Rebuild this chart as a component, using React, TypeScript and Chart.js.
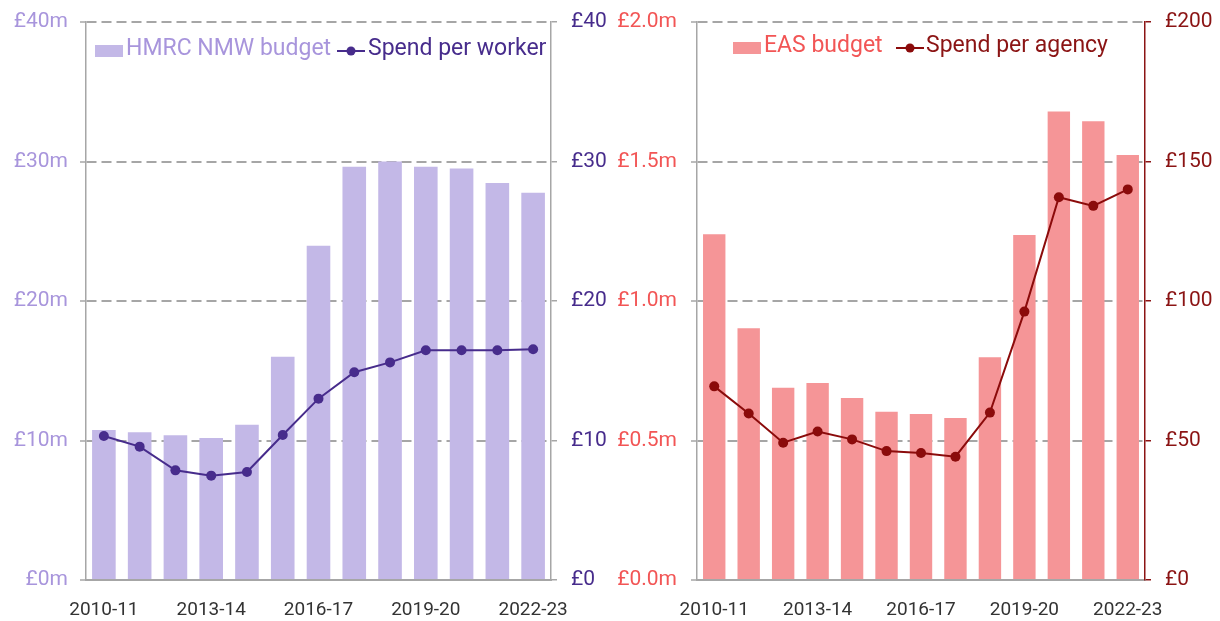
import React, { useEffect, useRef } from "react";
import { Chart, registerables } from "chart.js";

Chart.register(...registerables);

const FONT = "Roboto, 'Noto Sans', 'DejaVu Sans', sans-serif";

const categories = [
  "2010-11", "2011-12", "2012-13", "2013-14", "2014-15", "2015-16", "2016-17",
  "2017-18", "2018-19", "2019-20", "2020-21", "2021-22", "2022-23",
];

// Left chart: HMRC NMW budget (£m) and spend per worker (£)
const hmrcBudget = [10.75, 10.6, 10.37, 10.18, 11.13, 16.0, 23.96, 29.63, 30.0, 29.63, 29.5, 28.46, 27.76];
const spendPerWorker = [10.32, 9.56, 7.86, 7.48, 7.74, 10.39, 13.0, 14.89, 15.6, 16.47, 16.47, 16.47, 16.54];

// Right chart: EAS budget (£m) and spend per agency (£)
const easBudget = [1.239, 0.902, 0.689, 0.706, 0.652, 0.603, 0.595, 0.581, 0.798, 1.237, 1.679, 1.644, 1.523];
const spendPerAgency = [69.4, 59.7, 49.2, 53.2, 50.4, 46.2, 45.5, 44.2, 60.0, 96.2, 137.2, 134.1, 140.0];

const hmrcLeftTicks = ["£0m", "£10m", "£20m", "£30m", "£40m"];
const hmrcRightTicks = ["£0", "£10", "£20", "£30", "£40"];
const easLeftTicks = ["£0.0m", "£0.5m", "£1.0m", "£1.5m", "£2.0m"];
const easRightTicks = ["£0", "£50", "£100", "£150", "£200"];

const GRID = "#a6a6a6";

const insideLegend = {
  id: "insideLegend",
  afterDraw(chart: any, _args: any, opts: any) {
    if (!opts || !opts.items) return;
    const ctx = chart.ctx;
    ctx.save();
    ctx.font = `400 ${opts.fontSize}px ${FONT}`;
    ctx.textBaseline = "middle";
    ctx.textAlign = "left";
    const ds = chart.data.datasets;
    opts.items.forEach((it: any) => {
      const d = ds[it.dataset];
      const y = opts.y;
      if (d.type === "bar") {
        ctx.fillStyle = d.backgroundColor;
        ctx.fillRect(it.x, y - 6, 28, 12);
      } else {
        ctx.strokeStyle = d.borderColor;
        ctx.lineWidth = 2;
        ctx.beginPath();
        ctx.moveTo(it.x, y);
        ctx.lineTo(it.x + 28, y);
        ctx.stroke();
        ctx.fillStyle = d.borderColor;
        ctx.beginPath();
        ctx.arc(it.x + 14, y, 4.5, 0, Math.PI * 2);
        ctx.fill();
      }
      ctx.fillStyle = it.textColor;
      ctx.fillText(d.label, it.textX, y - 2);
    });
    ctx.restore();
  },
};

type Spec = {
  budget: number[];
  spend: number[];
  budgetLabel: string;
  spendLabel: string;
  barColor: string;
  lineColor: string;
  leftTickColor: string;
  rightTickColor: string;
  rightBorderColor: string;
  leftMax: number;
  leftLabels: string[];
  rightMax: number;
  rightLabels: string[];
  leftWidth: number;
  rightWidth: number;
  leftPad: number;
  rightPad: number;
  barPct: number;
  legend: any;
};

function buildConfig(s: Spec): any {
  return {
    type: "bar",
    data: {
      labels: categories,
      datasets: [
        {
          type: "line",
          label: s.spendLabel,
          data: s.spend,
          yAxisID: "y2",
          borderColor: s.lineColor,
          backgroundColor: s.lineColor,
          borderWidth: 2,
          pointRadius: 5,
          pointBackgroundColor: s.lineColor,
          pointBorderWidth: 0,
          tension: 0,
          order: 0,
        },
        {
          type: "bar",
          label: s.budgetLabel,
          data: s.budget,
          yAxisID: "y",
          backgroundColor: s.barColor,
          borderWidth: 0,
          barPercentage: s.barPct,
          categoryPercentage: 1,
          order: 1,
        },
      ],
    },
    options: {
      responsive: false,
      animation: false,
      layout: { padding: { top: 22, left: 0, right: 0, bottom: 0 } },
      plugins: {
        legend: { display: false },
        tooltip: { enabled: false },
        insideLegend: s.legend,
      },
      scales: {
        x: {
          type: "category",
          offset: true,
          grid: { display: false },
          border: { display: true, color: GRID, width: 2 },
          ticks: {
            autoSkip: false,
            maxRotation: 0,
            minRotation: 0,
            color: "#333333",
            padding: 11,
            font: { family: FONT, size: 19, weight: "400" },
            callback: (_v: any, i: number) => (i % 3 === 0 ? categories[i] : ""),
          },
          afterFit: (sc: any) => {
            sc.height = 41;
            sc.paddingLeft = 0;
            sc.paddingRight = 0;
          },
        },
        y: {
          position: "left",
          min: 0,
          max: s.leftMax,
          ticks: {
            stepSize: s.leftMax / 4,
            color: s.leftTickColor,
            padding: s.leftPad,
            font: { family: FONT, size: 21, weight: "400" },
            callback: (_v: any, i: number) => s.leftLabels[i],
          },
          grid: {
            color: GRID,
            lineWidth: 2,
            tickLength: 6,
            tickColor: GRID,
            tickWidth: 1.5,
            tickBorderDash: [],
          },
          border: { display: true, color: GRID, width: 1.5, dash: [10, 5] },
          afterFit: (sc: any) => {
            sc.width = s.leftWidth;
            sc.paddingTop = 0;
            sc.paddingBottom = 0;
          },
        },
        y2: {
          position: "right",
          min: 0,
          max: s.rightMax,
          ticks: {
            stepSize: s.rightMax / 4,
            color: s.rightTickColor,
            padding: s.rightPad,
            font: { family: FONT, size: 21, weight: "400" },
            callback: (_v: any, i: number) => s.rightLabels[i],
          },
          grid: {
            drawOnChartArea: false,
            color: s.rightBorderColor,
            lineWidth: 1.5,
            tickLength: 6,
          },
          border: { display: true, color: s.rightBorderColor, width: 1.5 },
          afterFit: (sc: any) => {
            sc.width = s.rightWidth;
            sc.paddingTop = 0;
            sc.paddingBottom = 0;
          },
        },
      },
    },
    plugins: [insideLegend],
  };
}

function ChartCanvas({ spec, left, width }: { spec: Spec; left: number; width: number }) {
  const ref = useRef<HTMLCanvasElement | null>(null);
  useEffect(() => {
    if (!ref.current) return;
    const chart = new Chart(ref.current, buildConfig(spec));
    return () => chart.destroy();
  }, []);
  return (
    <canvas
      ref={ref}
      width={width}
      height={621}
      style={{ position: "absolute", left, top: 0, width, height: 621, display: "block" }}
    />
  );
}

const leftSpec: Spec = {
  budget: hmrcBudget,
  spend: spendPerWorker,
  budgetLabel: "HMRC NMW budget",
  spendLabel: "Spend per worker",
  barColor: "#c3b8e7",
  lineColor: "#472c8c",
  leftTickColor: "#a895dc",
  rightTickColor: "#472c8c",
  rightBorderColor: GRID,
  leftMax: 40,
  leftLabels: hmrcLeftTicks,
  rightMax: 40,
  rightLabels: hmrcRightTicks,
  leftWidth: 86,
  rightWidth: 61,
  leftPad: 12,
  rightPad: 14,
  barPct: 0.66,
  legend: {
    fontSize: 23,
    y: 51,
    items: [
      { dataset: 1, x: 95, textX: 126, textColor: "#a895dc" },
      { dataset: 0, x: 337, textX: 368, textColor: "#472c8c" },
    ],
  },
};

const RX = 612;

const rightSpec: Spec = {
  budget: easBudget,
  spend: spendPerAgency,
  budgetLabel: "EAS budget",
  spendLabel: "Spend per agency",
  barColor: "#f59597",
  lineColor: "#8b0b0b",
  leftTickColor: "#f25555",
  rightTickColor: "#8b1414",
  rightBorderColor: "#8b1414",
  leftMax: 2,
  leftLabels: easLeftTicks,
  rightMax: 200,
  rightLabels: easRightTicks,
  leftWidth: 697 - RX,
  rightWidth: 1220 - 1145,
  leftPad: 14,
  rightPad: 14,
  barPct: 0.65,
  legend: {
    fontSize: 23,
    y: 48,
    items: [
      { dataset: 1, x: 733 - RX, textX: 764 - RX, textColor: "#f25555" },
      { dataset: 0, x: 896 - RX, textX: 926 - RX, textColor: "#8b1414" },
    ],
  },
};

export default function App() {
  return (
    <div style={{ position: "fixed", left: 0, top: 0, width: 1220, height: 621, background: "#ffffff" }}>
      <ChartCanvas spec={leftSpec} left={0} width={RX} />
      <ChartCanvas spec={rightSpec} left={RX} width={1220 - RX} />
    </div>
  );
}
